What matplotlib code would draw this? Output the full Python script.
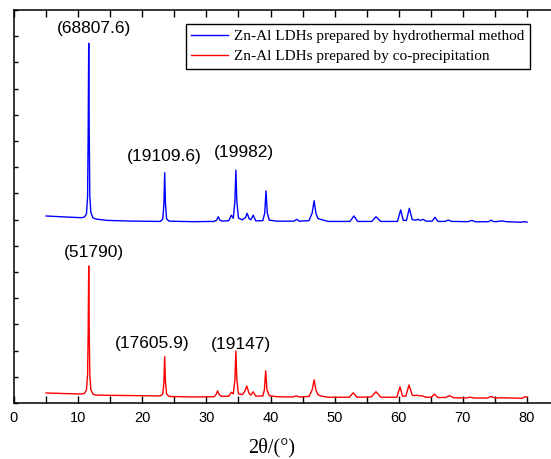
import numpy as np
from matplotlib import pyplot as plt
from matplotlib.ticker import MultipleLocator, FuncFormatter

# peak / baseline vertices (2theta in degrees, counts)
hydro_x = [5.0, 8.0, 10.5, 11.0, 11.3, 11.48, 11.57, 11.65, 11.73, 11.82, 11.98,
           12.3, 12.8, 14.5, 18.0, 22.8, 23.2, 23.38, 23.5, 23.62, 23.8, 24.2,
           28.0, 31.2, 31.6, 31.85, 32.1, 32.5, 33.5, 33.9, 34.2, 34.45, 34.6,
           34.75, 35.0, 35.6, 36.1, 36.35, 36.7, 36.95, 37.3, 37.7, 38.8, 39.1,
           39.3, 39.5, 39.8, 41.0, 43.6, 44.1, 44.5, 46.0, 46.5, 46.8, 47.1,
           47.4, 47.8, 49.0, 52.4, 53.0, 53.6, 55.8, 56.45, 57.2, 59.8, 60.3,
           60.7, 61.2, 61.65, 62.1, 62.6, 63.0, 63.4, 63.8, 64.3, 65.2, 65.65,
           66.1, 67.2, 67.7, 68.3, 70.8, 71.4, 72.0, 74.0, 74.4, 74.8, 75.5,
           76.05, 76.8, 79.0, 79.6, 80.0]
hydro_y = [3380, 3000, 2730, 3000, 4200, 11000, 36000, 69300, 36000, 11000, 4800,
           2700, 2200, 1700, 1450, 1300, 2200, 8000, 19900, 8000, 2200, 1400,
           1200, 1300, 1800, 3100, 1800, 1400, 1600, 3700, 2500, 9000, 20900,
           9000, 2600, 1900, 2800, 4400, 2200, 2000, 3700, 1500, 1600, 4500,
           13000, 4500, 1800, 1400, 1400, 2100, 1400, 1600, 4500, 9200, 4300,
           2400, 2100, 1300, 1300, 3400, 1300, 1300, 3100, 1300, 1300, 5700,
           1700, 1700, 6300, 2000, 1800, 2100, 1700, 2100, 1400, 1400, 2900,
           1300, 1300, 1800, 1300, 1200, 1700, 1150, 1200, 1800, 1200, 1300,
           1500, 1200, 1000, 1200, 1050]
hydro_offset = 68000

copre_x = [5.0, 8.0, 10.5, 11.0, 11.3, 11.48, 11.57, 11.65, 11.73, 11.82, 11.98,
           12.3, 12.8, 16.0, 22.8, 23.2, 23.38, 23.5, 23.62, 23.8, 24.2, 28.0,
           31.2, 31.5, 31.75, 32.0, 32.4, 33.5, 33.9, 34.2, 34.45, 34.6, 34.75,
           35.0, 35.6, 36.0, 36.3, 36.65, 36.95, 37.3, 37.7, 38.8, 39.05, 39.25,
           39.45, 39.8, 41.0, 43.5, 44.0, 44.5, 46.0, 46.5, 46.8, 47.1, 47.4,
           47.8, 49.0, 52.3, 52.9, 53.5, 55.7, 56.45, 57.2, 59.7, 60.2, 60.6,
           61.1, 61.6, 62.1, 62.5, 62.8, 63.2, 63.6, 64.2, 65.1, 65.55, 66.1,
           67.3, 67.9, 68.6, 70.5, 71.1, 71.8, 73.8, 74.4, 75.0, 76.0, 79.2,
           79.7, 80.0]
copre_y = [3820, 3600, 3430, 3700, 5000, 11000, 28000, 52300, 28000, 11000, 5200,
           3400, 3000, 2900, 2700, 3400, 8000, 17700, 8000, 3400, 2500, 2300,
           2400, 3200, 4600, 3200, 2500, 2600, 4100, 3500, 9000, 19800, 9000,
           3500, 3200, 4500, 6500, 3700, 3000, 4300, 2600, 2700, 5000, 12300,
           5000, 2800, 2400, 2300, 2700, 2300, 2500, 5000, 8800, 4800, 3200,
           2700, 2200, 2200, 3900, 2200, 2300, 4300, 2200, 2200, 6200, 2600,
           2600, 6900, 3000, 2800, 3000, 2700, 2800, 2200, 2200, 3400, 2100,
           2100, 2800, 2000, 1900, 2200, 1900, 1900, 2500, 1900, 2000, 1800,
           2400, 2200]

labels = ["Zn-Al LDHs prepared by hydrothermal method",
          "Zn-Al LDHs prepared by co-precipitation"]

# peak intensity notes: (text, x, y)
notes_text = ["(68807.6)", "(19109.6)", "(19982)", "(51790)", "(17605.9)", "(19147)"]
notes_x = [12.4, 23.4, 35.9, 12.5, 21.6, 35.4]
notes_y = [143100, 93900, 95540, 57370, 22790, 22140]

fig = plt.figure(figsize=(5.51, 4.59), dpi=100)
ax = fig.add_axes([14 / 551, 56 / 459, 85 * 6.4125 / 551, 393 / 459])

ax.plot(hydro_x, np.array(hydro_y) + hydro_offset, color='#0000ff', lw=1.0, label=labels[0])
ax.plot(copre_x, copre_y, color='#ff0000', lw=1.0, label=labels[1])

for t, x, y in zip(notes_text, notes_x, notes_y):
    ax.text(x, y, t, ha='center', va='center', fontsize=12.5, family='Liberation Sans')

ax.set_xlim(0, 85)
ax.set_ylim(0, 150000)

ax.xaxis.set_major_locator(MultipleLocator(5))
ax.xaxis.set_major_formatter(FuncFormatter(lambda v, p: f'{v:.0f}' if v % 10 == 0 else ''))
ax.yaxis.set_major_locator(MultipleLocator(10000))
ax.tick_params(axis='x', direction='in', length=5, width=1, top=True, pad=6, labelsize=10.5)
ax.tick_params(axis='y', direction='in', length=3, width=1, labelleft=False)
for lab in ax.get_xticklabels():
    lab.set_family('Liberation Sans')
for s in ax.spines.values():
    s.set_linewidth(1.1)

fig.text(271.5 / 551, 1 - 448 / 459, "2θ/(°)", ha='center', va='center',
         fontsize=14.5, family='Liberation Serif')

leg = ax.legend(loc='upper left', bbox_to_anchor=(186 / 551, 1 - 24 / 459),
                bbox_transform=fig.transFigure, borderaxespad=0, fancybox=False,
                framealpha=1, edgecolor='black', handlelength=2.4, handletextpad=0.4,
                labelspacing=0.42, borderpad=0.35,
                prop={'family': 'Liberation Serif', 'size': 11})
leg.get_frame().set_linewidth(1.0)

fig.savefig('out.png', dpi=100)
